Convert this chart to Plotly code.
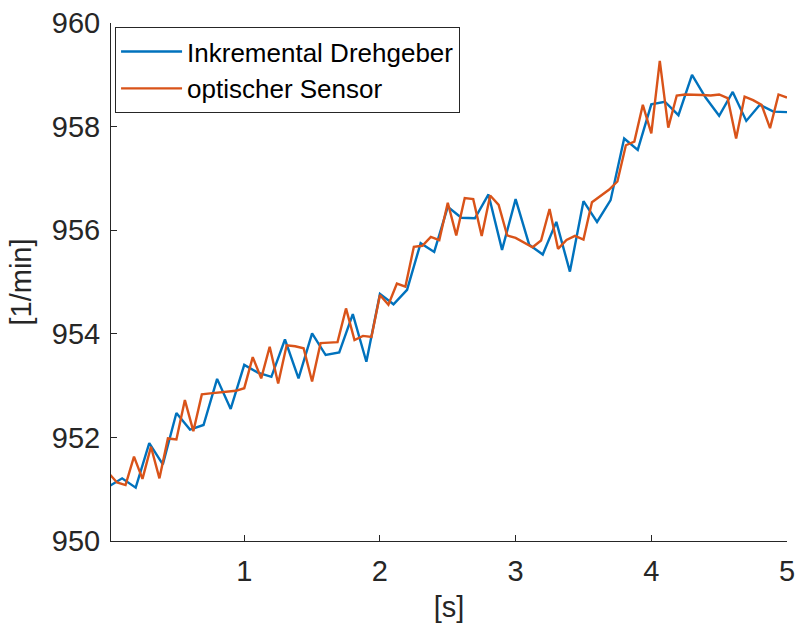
import numpy as np
import plotly.graph_objects as go

# Drehzahl des Inkrementalgebers (Abtastung alle 0.1 s)
t_inkremental = np.round(np.arange(0, 5.0001, 0.1), 4)
n_inkremental = [
    951.05, 951.21, 951.03, 951.89, 951.48, 952.47, 952.15, 952.24, 953.13, 952.55,
    953.40, 953.25, 953.17, 953.89, 953.14, 954.01, 953.59, 953.64, 954.38, 953.46,
    954.77, 954.57, 954.85, 955.75, 955.58, 956.45, 956.24, 956.23, 956.69, 955.62,
    956.60, 955.72, 955.53, 956.16, 955.20, 956.56, 956.16, 956.58, 957.77, 957.55,
    958.43, 958.48, 958.22, 959.00, 958.56, 958.21, 958.67, 958.11, 958.42, 958.29,
    958.28,
]

# Drehzahl des optischen Sensors (Abtastung alle 0.0625 s)
t_optisch = np.round(np.arange(0, 5.0001, 0.0625), 4)
n_optisch = [
    951.31, 951.13, 951.08, 951.63, 951.20, 951.82, 951.21, 951.98, 951.96, 952.72,
    952.12, 952.83, 952.85, 952.87, 952.88, 952.90, 952.95,
    953.55, 953.14, 953.75, 953.04, 953.78, 953.76, 953.72, 953.08, 953.82, 953.83,
    953.84, 954.49, 953.88, 953.96, 953.94, 954.75,
    954.56, 954.97, 954.91, 955.68, 955.70, 955.87, 955.81, 956.53, 955.90, 956.62,
    956.60, 955.89, 956.67, 956.49, 955.90, 955.85,
    955.76, 955.67, 955.80, 956.41, 955.64, 955.81, 955.89, 955.82, 956.54, 956.66,
    956.78, 956.94, 957.64, 957.71, 958.42, 957.87,
    959.27, 957.98, 958.60, 958.62, 958.62, 958.61, 958.60, 958.62, 958.55, 957.77,
    958.58, 958.51, 958.42, 957.97, 958.62, 958.56,
]

x_ticks = [1, 2, 3, 4, 5]
y_ticks = [950, 952, 954, 956, 958, 960]

BLUE = "#0072BD"
ORANGE = "#D95319"
AXIS = "#262626"
FONT = "Liberation Sans, Arial, sans-serif"

fig = go.Figure()
fig.add_trace(go.Scatter(
    x=t_inkremental, y=n_inkremental, mode="lines",
    name="Inkremental Drehgeber",
    line=dict(color=BLUE, width=2.4),
))
fig.add_trace(go.Scatter(
    x=t_optisch, y=n_optisch, mode="lines",
    name="optischer Sensor",
    line=dict(color=ORANGE, width=2.4),
))

axis_common = dict(
    showgrid=False, zeroline=False,
    showline=True, linecolor=AXIS, linewidth=1,
    ticks="inside", ticklen=6, tickwidth=1, tickcolor=AXIS,
    tickfont=dict(family=FONT, size=29, color=AXIS),
    mirror=False, automargin=False,
)

fig.update_layout(
    width=797, height=628,
    margin=dict(l=111, r=10, t=23, b=87),
    paper_bgcolor="white", plot_bgcolor="white",
    font=dict(family=FONT, color=AXIS),
    xaxis=dict(
        range=[0.018, 5], tickvals=x_ticks, ticktext=[str(v) for v in x_ticks],
        ticklabelstandoff=4,
        title=dict(text="[s]", font=dict(family=FONT, size=29, color=AXIS), standoff=10),
        **axis_common,
    ),
    yaxis=dict(
        range=[950, 960], tickvals=y_ticks, ticktext=[str(v) for v in y_ticks],
        ticklabelstandoff=4,
        title=dict(text="[1/min]", font=dict(family=FONT, size=29, color=AXIS), standoff=11),
        **axis_common,
    ),
    legend=dict(
        x=0.006, y=0.992, xanchor="left", yanchor="top",
        bgcolor="white", bordercolor=AXIS, borderwidth=1,
        font=dict(family=FONT, size=26, color="black"),
        itemwidth=61, tracegroupgap=0,
    ),
    showlegend=True,
)

fig.write_html("out.html")
